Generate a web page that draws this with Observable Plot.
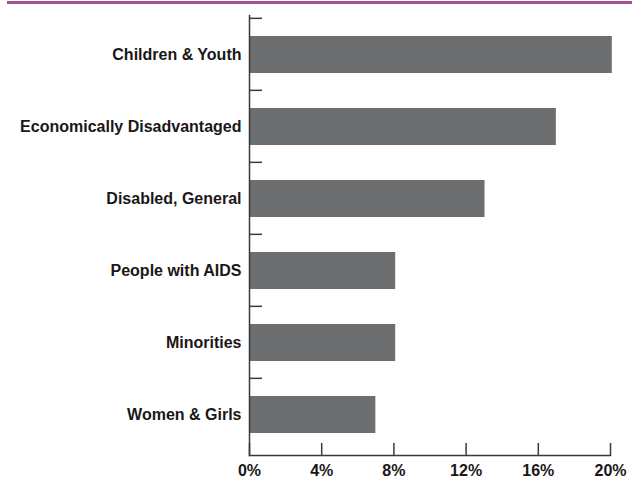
<!DOCTYPE html>
<html>
<head>
<meta charset="utf-8">
<script src="https://cdn.jsdelivr.net/npm/d3@7"></script>
<script src="https://cdn.jsdelivr.net/npm/@observablehq/plot@0.6"></script>
<style>
  html, body { margin: 0; padding: 0; background: #fff; }
  #wrap { position: relative; width: 639px; height: 485px; }
  #topline { position: absolute; left: 7px; top: 1px; width: 625px; height: 3px; background: #a4528f; z-index: 2; }
  svg { font-family: "Liberation Sans", Arial, sans-serif; }
</style>
</head>
<body>
<div id="wrap"><div id="topline"></div></div>
<script>
const categories = ["Children & Youth", "Economically Disadvantaged", "Disabled, General", "People with AIDS", "Minorities", "Women & Girls"];
const values = [20.1, 17.0, 13.05, 8.1, 8.1, 7.0];
const xTicks = [0, 4, 8, 12, 16, 20];
const xTickLabels = ["0%", "4%", "8%", "12%", "16%", "20%"];

const data = categories.map((c, i) => ({category: c, value: values[i]}));

const W = 639, H = 485, mTop = 15, mBottom = 30;
const step = (H - mTop - mBottom) / categories.length;

const chart = Plot.plot({
  width: W,
  height: H,
  marginLeft: 249,
  marginRight: 29,
  marginTop: mTop,
  marginBottom: mBottom,
  style: {fontFamily: "'Liberation Sans', Arial, sans-serif", fontSize: "16px", background: "#fff"},
  x: {domain: [0, 20]},
  y: {domain: categories, paddingInner: 0.48, paddingOuter: 0.26, label: null},
  marks: [
    Plot.barX(data, {x: "value", y: "category", fill: "#6d6e70"}),
    Plot.frame({anchor: "left", stroke: "#3a3a3a", strokeWidth: 1.5}),
    Plot.frame({anchor: "bottom", stroke: "#3a3a3a", strokeWidth: 1.5}),
    Plot.axisY({anchor: "left", tickSize: -13, dy: -step / 2, text: null, stroke: "#3a3a3a", strokeWidth: 1.5, label: null}),
    Plot.axisY({anchor: "left", tickSize: 0, tickPadding: 8, fontSize: 16, fontWeight: "bold", fill: "#1a1718", label: null}),
    Plot.axisX({anchor: "bottom", ticks: xTicks, tickSize: -12, text: null, stroke: "#3a3a3a", strokeWidth: 1.5, label: null}),
    Plot.axisX({anchor: "bottom", ticks: xTicks, tickSize: 0, tickPadding: 9, fontSize: 16, fontWeight: "bold", fill: "#1a1718",
      tickFormat: d => xTickLabels[xTicks.indexOf(d)], label: null})
  ]
});
document.getElementById("wrap").appendChild(chart);
</script>
</body>
</html>
